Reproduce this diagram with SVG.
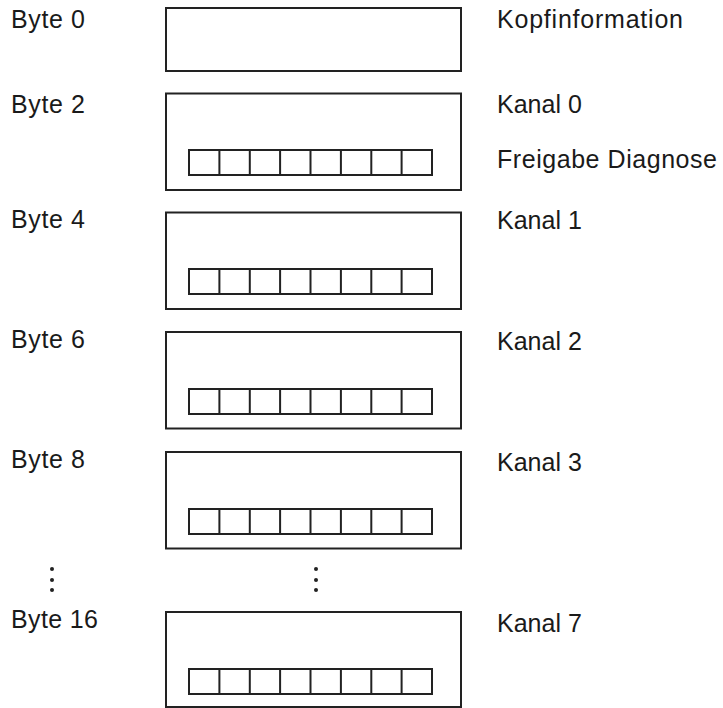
<svg xmlns="http://www.w3.org/2000/svg" width="723" height="708" viewBox="0 0 723 708">
<style>
text{font-family:"Liberation Sans",Arial,sans-serif;font-size:25px;fill:#1a1a1a}
.box{fill:#fff;stroke:#222;stroke-width:2}
.cell{fill:#fff;stroke:#222;stroke-width:2}
.dot{fill:#222}
</style>
<defs>
<g id="cells">
<rect class="cell" x="189" y="0" width="243" height="25"/>
<path d="M219.4 0v25M249.8 0v25M280.1 0v25M310.5 0v25M340.9 0v25M371.3 0v25M401.6 0v25" stroke="#222" stroke-width="2" fill="none"/>
</g>
</defs>
<rect width="723" height="708" fill="#fff"/>
<g id="row0">
<text x="11" y="27.5" textLength="74">Byte 0</text>
<rect class="box" x="166" y="8" width="295" height="63"/>
<text x="497" y="28" textLength="186">Kopfinformation</text>
</g>
<g id="row1">
<text x="11" y="112.5" textLength="74">Byte 2</text>
<rect class="box" x="166" y="93.5" width="295" height="96.5"/>
<use href="#cells" y="150"/>
<text x="497" y="113">Kanal 0</text>
<text x="497" y="167.5" textLength="220">Freigabe Diagnose</text>
</g>
<g id="row2">
<text x="11" y="227.5" textLength="74">Byte 4</text>
<rect class="box" x="166" y="212.5" width="295" height="96.5"/>
<use href="#cells" y="269"/>
<text x="497" y="229">Kanal 1</text>
</g>
<g id="row3">
<text x="11" y="347.5" textLength="74">Byte 6</text>
<rect class="box" x="166" y="332" width="295" height="96.5"/>
<use href="#cells" y="389"/>
<text x="497" y="350">Kanal 2</text>
</g>
<g id="row4">
<text x="11" y="467.5" textLength="74">Byte 8</text>
<rect class="box" x="166" y="452" width="295" height="96.5"/>
<use href="#cells" y="509"/>
<text x="497" y="471">Kanal 3</text>
</g>
<g id="ellipsis">
<circle class="dot" cx="52" cy="569" r="2"/>
<circle class="dot" cx="52" cy="580" r="2"/>
<circle class="dot" cx="52" cy="590" r="2"/>
<circle class="dot" cx="316" cy="569" r="2"/>
<circle class="dot" cx="316" cy="580" r="2"/>
<circle class="dot" cx="316" cy="590" r="2"/>
</g>
<g id="row7">
<text x="11" y="628" textLength="87">Byte 16</text>
<rect class="box" x="166" y="612" width="295" height="95"/>
<use href="#cells" y="669"/>
<text x="497" y="632">Kanal 7</text>
</g>
<g id="connectors"/>
</svg>
